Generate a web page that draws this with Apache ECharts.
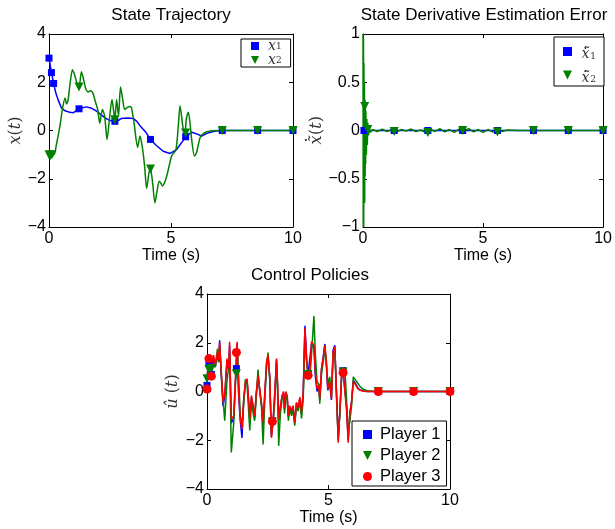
<!DOCTYPE html>
<html>
<head>
<meta charset="utf-8">
<script src="https://cdn.jsdelivr.net/npm/echarts@6/dist/echarts.min.js"></script>
<style>
html, body { margin: 0; padding: 0; background: #fff; }
#chart { width: 615px; height: 529px; }
</style>
</head>
<body>
<div id="chart"></div>
<script>
// state trajectory
var x1T = [0, 0.1, 0.19, 0.28, 0.37, 0.5, 0.65, 0.85, 1.0, 1.23, 1.53, 1.75, 1.95, 2.15, 2.36, 2.55, 2.7, 2.85, 2.97, 3.2,
	3.45, 3.6, 3.73, 3.95, 4.16, 4.4, 4.68, 4.96, 5.23, 5.48, 5.6, 5.85, 6.05, 6.26, 6.47, 6.74, 7.0, 7.5, 10];
var x1 = [3.0, 2.4, 1.95, 1.55, 1.28, 0.95, 0.82, 0.76, 0.74, 0.9, 0.98, 0.92, 0.8, 0.64, 0.48, 0.4, 0.36, 0.42, 0.5, 0.52,
	0.5, 0.38, 0.2, -0.05, -0.37, -0.62, -0.86, -0.95, -0.79, -0.44, -0.26, -0.07, -0.14, -0.23, -0.12, -0.04, 0, 0, 0];
var x2T = [0, 0.2, 0.3, 0.45, 0.55, 0.66, 0.72, 0.78, 0.87, 0.96, 1.05, 1.15, 1.23, 1.33, 1.42, 1.5, 1.6, 1.7, 1.8, 1.9,
	2.0, 2.08, 2.19, 2.28, 2.38, 2.48, 2.58, 2.65, 2.7, 2.77, 2.85, 2.93, 3.02, 3.1, 3.2, 3.3, 3.38, 3.5, 3.63, 3.73,
	3.84, 3.92, 4.0, 4.1, 4.16, 4.25, 4.34, 4.43, 4.52, 4.66, 4.76, 4.86, 5.03, 5.2, 5.3, 5.37, 5.48, 5.56, 5.63, 5.71,
	5.78, 5.85, 5.96, 6.05, 6.19, 6.3, 6.47, 6.7, 7.0, 10];
var x2 = [-1.0, -1.0, -0.6, 0.2, 0.9, 1.35, 1.1, 1.25, 2.0, 2.52, 2.3, 1.95, 1.8, 2.44, 2.1, 1.75, 1.6, 1.65, 1.55, 1.2,
	0.85, 0.3, 0.87, 0.6, -0.37, 0.5, 1.28, 0.8, 0.45, 1.28, 0.6, 1.8, 1.3, 0.87, 0.95, 1.0, 0.95, 0.2, -0.7, -0.23,
	-0.8, -1.5, -2.4, -1.75, -1.6, -2.2, -3.0, -2.5, -2.1, -2.3, -2.1, -1.75, -1.05, -0.8, 0.2, 1.03, 0.2, -0.25, 0.5, 0.76,
	0.3, -0.4, -1.06, -0.9, -0.3, -0.15, -0.05, -0.01, 0, 0];
var x1MarkT = [0, 0.1, 0.19, 1.23, 2.7, 4.16, 5.6, 7.1, 8.55, 10];
var x1Mark = [3, 2.4, 1.95, 0.9, 0.38, -0.37, -0.26, 0, 0, 0];
var x2MarkT = [0, 0.05, 0.12, 1.23, 2.7, 4.16, 5.6, 7.1, 8.55, 10];
var x2Mark = [-1, -1.05, -1.0, 1.8, 0.45, -1.6, -0.1, 0, 0, 0];

// derivative estimation error
var eT = [0, 0.01, 0.02, 0.03, 0.04, 0.05, 0.06, 0.07, 0.08, 0.09, 0.1, 0.11, 0.12, 0.14, 0.16, 0.18, 0.2, 0.23, 0.26, 0.3,
	0.4, 0.6, 0.8, 1.0, 1.2, 1.4, 1.6, 1.8, 2.0, 2.2, 2.4, 2.6, 2.8, 3.0, 3.2, 3.4, 3.6, 3.8, 4.0, 4.2,
	4.4, 4.6, 4.8, 5.0, 5.2, 5.4, 5.6, 5.8, 6.0, 6.5, 10];
var e1 = [0, 0.04, -0.03, 0.03, -0.02, 0.02, -0.01, 0.01, 0, 0, 0, 0, 0, 0, 0, 0, 0, 0, 0, 0,
	0, 0, 0, 0, 0, 0, 0, 0, 0, 0, 0, 0, 0, 0, 0, 0, 0, 0, 0, 0,
	0, 0, 0, 0, 0, 0, 0, 0, 0, 0, 0];
var e2 = [1.0, -1.0, 0.95, -1.0, 0.7, -0.6, 0.5, -0.75, 0.32, -0.47, 0.3, -0.35, 0.2, -0.25, 0.12, -0.15, 0.08, -0.05, 0.03, -0.02,
	0.01, -0.01, 0.015, -0.01, 0.01, -0.015, 0.01, -0.005, 0.015, -0.01, 0.005, -0.02, 0.015, -0.01, 0.02, -0.015, 0.01, -0.02, 0.015, -0.01,
	0.02, -0.015, 0.01, -0.02, 0.01, -0.015, 0.005, -0.01, 0.005, 0, 0];
var e1MarkT = [0.04, 1.3, 2.7, 4.15, 5.6, 7.1, 8.55, 10];
var e1Mark = [0, 0, 0, 0, 0, 0, 0, 0];
var e2MarkT = [0.07, 0.2, 1.3, 2.7, 4.15, 5.6, 7.1, 8.55, 10];
var e2Mark = [0.25, 0.01, -0.01, -0.02, 0, -0.015, 0, 0, 0];

// control policies
var uT = [0, 0.04, 0.11, 0.19, 0.27, 0.34, 0.43, 0.48, 0.52, 0.59,
	0.66, 0.73, 0.82, 0.89, 0.93, 1.0, 1.1, 1.17, 1.24, 1.3,
	1.37, 1.44, 1.51, 1.58, 1.65, 1.72, 1.76, 1.83, 1.9, 1.96,
	2.03, 2.1, 2.17, 2.24, 2.31, 2.38, 2.45, 2.51, 2.58, 2.65,
	2.72, 2.79, 2.86, 2.9, 2.95, 3.02, 3.09, 3.15, 3.19, 3.24,
	3.3, 3.35, 3.4, 3.48, 3.54, 3.61, 3.68, 3.75, 3.82, 3.89,
	3.96, 4.03, 4.1, 4.16, 4.23, 4.3, 4.4, 4.46, 4.53, 4.6,
	4.64, 4.71, 4.78, 4.85, 4.91, 4.97, 5.05, 5.12, 5.19, 5.26,
	5.33, 5.4, 5.47, 5.54, 5.6, 5.67, 5.74, 5.81, 5.88, 5.95,
	6.02, 6.1, 6.2, 6.3, 6.45, 6.6, 6.8, 7.0, 8.0, 10];
var u1 = [0.25, 1.14, 0.5, 0.8, 1.3, 1.0, 1.5, 1.2, 2.1, 0.6,
	-0.6, -0.2, 1.2, 0.9, 1.9, -1.3, -1.1, 0.4, 1.95, -0.1,
	-1.2, -1.9, -0.4, 0.3, 0.45, -0.5, -1.2, -0.25, -0.65, -1.1,
	-0.1, 0.6, 0.05, -0.5, -1.35, -0.1, 1.1, 1.45, 0.6, -1.85,
	-1.2, -0.1, 1.3, 0.35, -1.2, -0.65, -0.2, -0.05, -0.75, -0.05,
	-0.2, -1.05, -0.6, -0.85, -0.6, -1.3, -0.5, -0.7, -0.3, -0.9,
	-0.05, 2.7, 1.3, 0.7, 0.75, 1.95, 1.8, 0.6, 0.0, 0.3,
	-0.35, 0.9, 1.4, 1.95, 1.1, 0.05, 0.35, -0.35, 1.7, 1.9,
	-0.1, -2.0, -0.8, 0.7, 0.85, 0.85, -0.6, -2.0, -0.9, -0.4,
	0.45, 0.35, 0.15, 0.06, 0.02, 0, 0, 0, 0, 0];
var u2 = [0.52, 0.9, 0.7, 1.0, 1.2, 1.0, 1.75, 1.2, 1.9, 0.7,
	-0.3, -1.2, 0.4, 1.0, 1.6, -2.5, -1.3, 0.3, 1.8, 0.7,
	-1.0, -1.4, -0.5, 0.5, 0.3, -0.9, -1.6, -0.4, -0.9, -1.2,
	-0.2, 0.9, 0.0, -0.6, -2.17, -0.3, 1.0, 1.6, 0.5, -1.7,
	-1.3, -0.4, 1.2, 0.3, -2.23, -0.9, -0.3, -0.2, -0.9, -0.1,
	-0.4, -1.2, -0.7, -1.0, -0.7, -1.4, -0.6, -0.8, -0.4, -1.1,
	-0.3, 2.2, 1.2, 0.7, 0.5, 1.5, 3.1, 1.5, 0.4, 0.3,
	-0.5, 0.7, 1.2, 1.7, 1.3, 0.3, 0.6, -0.2, 1.5, 1.7,
	-0.3, -1.8, -0.9, 0.6, 0.8, 1.0, -0.3, -1.6, -1.2, -0.6,
	0.6, 0.55, 0.35, 0.2, 0.08, 0.03, 0.01, 0, 0, 0];
var u3 = [0.05, 1.35, 0.66, 0.94, 1.49, 1.08, 1.6, 1.28, 2.0, 0.8,
	-0.44, -0.1, 1.35, 0.94, 2.04, -1.13, -1.0, 0.52, 2.04, 0.0,
	-1.13, -1.55, -0.3, 0.39, 0.52, -0.44, -1.13, -0.17, -0.58, -1.0,
	0.0, 0.66, 0.11, -0.44, -1.27, 0.0, 1.21, 1.49, 0.66, -1.9,
	-1.25, 0.0, 1.35, 0.4, -1.13, -0.58, -0.17, 0.0, -0.7, 0.0,
	-0.17, -1.0, -0.58, -0.8, -0.58, -1.27, -0.44, -0.65, -0.23, -0.85,
	0.0, 2.6, 1.35, 0.66, 0.8, 2.04, 1.9, 0.8, 0.11, 0.25,
	-0.3, 0.94, 1.35, 1.9, 1.2, 0.11, 0.39, -0.3, 1.63, 1.83,
	0.0, -2.1, -0.72, 0.66, 0.77, 0.8, -0.72, -2.1, -0.85, -0.44,
	0.4, 0.3, 0.12, 0.05, 0.01, 0, 0, 0, 0, 0];
var uMarkT = [0, 0.08, 0.18, 1.21, 2.69, 4.16, 5.6, 7.05, 8.5, 10];
var u1Mark = [0.25, 1.14, 0.7, 0.94, -1.2, 0.7, 0.85, 0, 0, 0];
var u2Mark = [0.52, 0.9, 0.94, 0.73, -1.25, 0.7, 0.8, 0, 0, 0];
var u3Mark = [0.1, 1.35, 0.63, 1.6, -1.23, 0.66, 0.77, 0, 0, 0];

var BLUE = '#0000ff', GREEN = '#008000', RED = '#ff0000';
var DOWN = 'path://M0,0L2,0L1,2Z';
var FONT = 'Liberation Sans';
var SERIF = 'DejaVu Serif';

function pairs(ts, vs) {
	return ts.map(function (t, k) { return [t, vs[k]]; });
}
function minus(v) {
	return String(v).replace('-', '\u2212');
}

var grids = [
	{left: 49, top: 34, width: 244, height: 193},
	{left: 363, top: 34, width: 244, height: 193},
	{left: 207, top: 294, width: 243, height: 195}
];
var yRange = [[-4, 4, 2], [-1, 1, 0.5], [-4, 4, 2]];
// the dot over x-tilde sits on its own short line above
var yNames = [
	'{i|x}{n|(}{i|t}{n|)}',
	'{d|.}{dr| }\n{xa|x\u0303}{n|(}{i|t}{n|)}',
	'{i|\u00fb}{n| (}{i|t}{n|)}'
];
var yGaps = [22, 18, 25];
var mathRich = {
	i: {fontFamily: SERIF, fontStyle: 'italic', fontSize: 16, color: '#333', lineHeight: 18},
	n: {fontFamily: SERIF, fontSize: 16, color: '#333', lineHeight: 18},
	xa: {fontFamily: SERIF, fontStyle: 'italic', fontSize: 16, color: '#333', lineHeight: 18, width: 10, align: 'center'},
	d: {fontFamily: SERIF, fontSize: 16, color: '#333', lineHeight: 9, width: 10, align: 'center'},
	dr: {fontFamily: SERIF, fontSize: 16, lineHeight: 9, width: 19}
};

var xAxes = [], yAxes = [];
for (var i = 0; i < 3; i++) {
	xAxes.push({
		type: 'value', gridIndex: i, min: 0, max: 10, interval: 5,
		name: 'Time (s)', nameLocation: 'middle', nameGap: 19,
		nameTextStyle: {fontFamily: FONT, fontSize: 16, color: '#000'},
		axisLine: {onZero: false, lineStyle: {color: '#000', width: 1}},
		axisTick: {inside: true, length: 4, lineStyle: {color: '#000'}},
		axisLabel: {fontFamily: FONT, fontSize: 16, color: '#000', margin: 4},
		splitLine: {show: false}
	});
	yAxes.push({
		type: 'value', gridIndex: i, min: yRange[i][0], max: yRange[i][1], interval: yRange[i][2],
		name: yNames[i], nameLocation: 'middle', nameGap: yGaps[i], nameRotate: 90,
		nameTextStyle: {rich: mathRich},
		axisLine: {onZero: false, lineStyle: {color: '#000', width: 1}},
		axisTick: {inside: true, length: 4, lineStyle: {color: '#000'}},
		axisLabel: {fontFamily: FONT, fontSize: 16, color: '#000', margin: 3, formatter: minus},
		splitLine: {show: false}
	});
}
for (var j = 0; j < 3; j++) {
	xAxes.push({
		type: 'value', gridIndex: j, position: 'top', min: 0, max: 10, interval: 5,
		axisLine: {onZero: false, lineStyle: {color: '#000', width: 1}},
		axisTick: {inside: true, length: 4, lineStyle: {color: '#000'}},
		axisLabel: {show: false}, splitLine: {show: false}
	});
	yAxes.push({
		type: 'value', gridIndex: j, position: 'right', min: yRange[j][0], max: yRange[j][1], interval: yRange[j][2],
		axisLine: {onZero: false, lineStyle: {color: '#000', width: 1}},
		axisTick: {inside: true, length: 4, lineStyle: {color: '#000'}},
		axisLabel: {show: false}, splitLine: {show: false}
	});
}

function line(name, g, data, color) {
	return {
		name: name, type: 'line', xAxisIndex: g, yAxisIndex: g, data: data,
		showSymbol: false, symbol: 'none', lineStyle: {color: color, width: 1.5},
		itemStyle: {color: color}, z: 2
	};
}
function marks(name, g, data, color, symbol, size) {
	return {
		name: name, type: 'scatter', xAxisIndex: g, yAxisIndex: g, data: data,
		symbol: symbol, symbolSize: size, itemStyle: {color: color, opacity: 1}, z: 3
	};
}

var legendBase = {
	orient: 'vertical', backgroundColor: '#fff', borderColor: '#000', borderWidth: 1,
	borderRadius: 0
};
var titleStyle = {fontFamily: FONT, fontSize: 17, fontWeight: 'normal', color: '#000'};

var option = {
	animation: false,
	backgroundColor: '#fff',
	title: [
		{text: 'State Trajectory', left: 171, top: 7, padding: 0, textAlign: 'center', textStyle: titleStyle},
		{text: 'State Derivative Estimation Error', left: 484, top: 7, padding: 0, textAlign: 'center', textStyle: titleStyle},
		{text: 'Control Policies', left: 310, top: 267, padding: 0, textAlign: 'center', textStyle: titleStyle}
	],
	legend: [
		Object.assign({}, legendBase, {
			left: 241, top: 39, padding: [0, 9, 0, 10], itemGap: 0, itemWidth: 8, itemHeight: 8,
			data: [{name: 'x1', icon: 'rect'}, {name: 'x2', icon: DOWN}],
			formatter: function (n) { return '{i|x}{s|' + n.slice(1) + '}'; },
			textStyle: {fontFamily: SERIF, fontSize: 14, lineHeight: 11, rich: {
				i: {fontFamily: SERIF, fontStyle: 'italic', fontSize: 14, color: '#333', lineHeight: 11, padding: [0, 0, 0, 4]},
				s: {fontFamily: SERIF, fontSize: 9, color: '#333', lineHeight: 6, verticalAlign: 'bottom'}
			}}
		}),
		Object.assign({}, legendBase, {
			left: 554, top: 37, padding: [1, 8, 1, 9], itemGap: 0, itemWidth: 9, itemHeight: 9,
			data: [{name: 'xd1', icon: 'rect'}, {name: 'xd2', icon: DOWN}],
			formatter: function (n) { return '{d|.}{dr| }\n{xa|x\u0303}{s|' + n.slice(2) + '}'; },
			textStyle: {fontFamily: SERIF, fontSize: 14, lineHeight: 12, rich: {
				xa: {fontFamily: SERIF, fontStyle: 'italic', fontSize: 14, color: '#333', lineHeight: 13, width: 9, align: 'center', padding: [0, 0, 0, 4]},
				s: {fontFamily: SERIF, fontSize: 9, color: '#333', lineHeight: 7, width: 6, verticalAlign: 'bottom'},
				d: {fontFamily: SERIF, fontSize: 14, color: '#333', lineHeight: 6, width: 9, align: 'center', padding: [0, 0, 0, 4]},
				dr: {fontFamily: SERIF, fontSize: 9, lineHeight: 6, width: 6}
			}}
		}),
		Object.assign({}, legendBase, {
			left: 352, top: 421, padding: [4, 6, 0, 11], itemGap: 2, itemWidth: 9, itemHeight: 9,
			data: [{name: 'Player 1', icon: 'rect'}, {name: 'Player 2', icon: DOWN}, {name: 'Player 3', icon: 'circle'}],
			textStyle: {fontFamily: FONT, fontSize: 16.5, color: '#000', lineHeight: 19, padding: [0, 0, 0, 3]}
		})
	],
	grid: grids,
	xAxis: xAxes,
	yAxis: yAxes,
	series: [
		line('x1 line', 0, pairs(x1T, x1), BLUE),
		marks('x1', 0, pairs(x1MarkT, x1Mark), BLUE, 'rect', 7),
		Object.assign(line('x2 line', 0, pairs(x2T, x2), GREEN), {smooth: 0.25}),
		marks('x2', 0, pairs(x2MarkT, x2Mark), GREEN, DOWN, 9),

		line('xd1 line', 1, pairs(eT, e1), BLUE),
		marks('xd1', 1, pairs(e1MarkT, e1Mark), BLUE, 'rect', 7),
		line('xd2 line', 1, pairs(eT, e2), GREEN),
		marks('xd2', 1, pairs(e2MarkT, e2Mark), GREEN, DOWN, 9),

		line('Player 1 line', 2, pairs(uT, u1), BLUE),
		marks('Player 1', 2, pairs(uMarkT, u1Mark), BLUE, 'rect', 7),
		line('Player 2 line', 2, pairs(uT, u2), GREEN),
		marks('Player 2', 2, pairs(uMarkT, u2Mark), GREEN, DOWN, 9),
		line('Player 3 line', 2, pairs(uT, u3), RED),
		marks('Player 3', 2, pairs(uMarkT, u3Mark), RED, 'circle', 9)
	]
};

var myChart = echarts.init(document.getElementById('chart'));
myChart.setOption(option);
</script>
</body>
</html>
